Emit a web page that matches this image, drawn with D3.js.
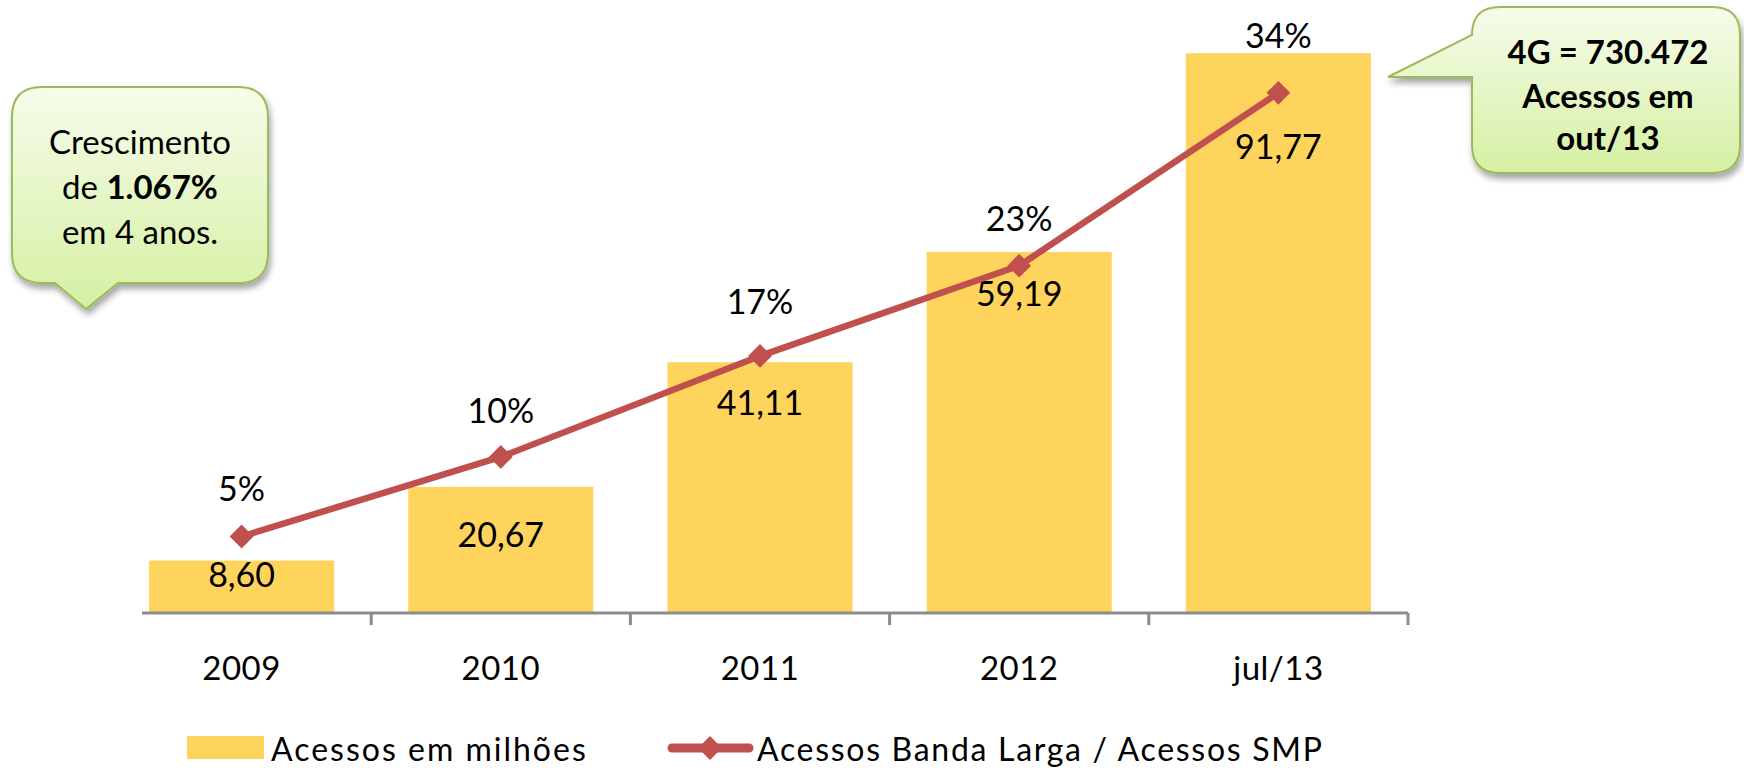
<!DOCTYPE html>
<html>
<head>
<meta charset="utf-8">
<script src="https://cdn.jsdelivr.net/npm/d3@7"></script>
<style>
  body { margin: 0; background: #fff; }
  svg { display: block; font-family: Lato, "Open Sans", sans-serif; }
</style>
</head>
<body>
<svg width="1744" height="770"></svg>
<script>
// dati
const categories = ["2009", "2010", "2011", "2012", "jul/13"];
const acessos = [8.60, 20.67, 41.11, 59.19, 91.77];          // acessos em milhões
const razao = [0.05, 0.102, 0.168, 0.227, 0.34];              // banda larga / SMP
const legendLabels = ["Acessos em milhões", "Acessos Banda Larga / Acessos SMP"];

const svg = d3.select("svg");
const width = +svg.attr("width");
const height = +svg.attr("height");

const barColor = "#FFD45C";
const lineColor = "#C0504D";
const baseY = 613;

// scale
const x = d3.scaleBand().domain(categories).range([112, 1408])
  .paddingInner(0.286).paddingOuter(0.143);
const y = d3.scaleLinear().domain([0, 100]).range([baseY, 3]);
const y2 = d3.scaleLinear().domain([0, 0.4]).range([baseY, 1]);

const defs = svg.append("defs");
const grad = defs.append("linearGradient").attr("id", "greenGrad")
  .attr("x1", 0).attr("y1", 0).attr("x2", 0).attr("y2", 1);
grad.append("stop").attr("offset", "0%").attr("stop-color", "#F6FCEB");
grad.append("stop").attr("offset", "100%").attr("stop-color", "#D5F0A2");
const shadow = defs.append("filter").attr("id", "shadow")
  .attr("x", "-20%").attr("y", "-20%").attr("width", "140%").attr("height", "150%");
shadow.append("feDropShadow").attr("dx", 2).attr("dy", 5).attr("stdDeviation", 3)
  .attr("flood-color", "#000").attr("flood-opacity", 0.35);

// barre
svg.selectAll(".bar")
  .data(acessos)
  .join("rect")
  .attr("class", "bar")
  .attr("x", (d, i) => x(categories[i]))
  .attr("y", d => y(d))
  .attr("width", x.bandwidth())
  .attr("height", d => baseY - y(d))
  .attr("fill", barColor);

// asse x
const axisG = svg.append("g").attr("transform", `translate(0, ${baseY})`);
const xAxis = d3.axisBottom(x).tickSize(0).tickPadding(50);
axisG.call(xAxis);
axisG.select(".domain").remove();
axisG.selectAll(".tick text")
  .attr("font-size", 33).attr("fill", "#000")
  .attr("font-family", "Lato, sans-serif")
  .attr("letter-spacing", 0.5)
  .attr("dy", 0).attr("y", 67);
axisG.append("line")
  .attr("x1", 142).attr("x2", 1408).attr("y1", 0).attr("y2", 0)
  .attr("stroke", "#8C8C8C").attr("stroke-width", 3);
const edges = categories.map(c => x(c) + x.bandwidth() + x.step() * x.paddingInner() / 2);
axisG.selectAll(".sep")
  .data(edges)
  .join("line")
  .attr("class", "sep")
  .attr("x1", d => d).attr("x2", d => d)
  .attr("y1", 0).attr("y2", 12)
  .attr("stroke", "#8C8C8C").attr("stroke-width", 3);

// etichette dei valori nelle barre
const valueDy = [26, 60, 53, 54, 106];
svg.selectAll(".val")
  .data(acessos)
  .join("text")
  .attr("class", "val")
  .attr("x", (d, i) => x(categories[i]) + x.bandwidth() / 2)
  .attr("y", (d, i) => y(d) + valueDy[i])
  .attr("text-anchor", "middle")
  .attr("font-size", 34)
  .text(d => d3.format(".2f")(d).replace(".", ","));

// linea
const cx = (d, i) => x(categories[i]) + x.bandwidth() / 2;
const line = d3.line().x(cx).y(d => y2(d));
svg.append("path")
  .datum(razao)
  .attr("d", line)
  .attr("fill", "none")
  .attr("stroke", lineColor)
  .attr("stroke-width", 6.5)
  .attr("stroke-linejoin", "round");

const diamond = d3.symbol().type(d3.symbolDiamond2).size(360);
svg.selectAll(".marker")
  .data(razao)
  .join("path")
  .attr("class", "marker")
  .attr("d", diamond)
  .attr("transform", (d, i) => `translate(${cx(d, i)}, ${y2(d)})`)
  .attr("fill", lineColor);

const pctDy = [-36, -34, -42, -35, -45];
svg.selectAll(".pct")
  .data(razao)
  .join("text")
  .attr("class", "pct")
  .attr("x", cx)
  .attr("y", (d, i) => y2(d) + pctDy[i])
  .attr("text-anchor", "middle")
  .attr("font-size", 34)
  .text(d => d3.format(".0%")(d));

// legenda
const leg = svg.append("g");
leg.append("rect").attr("x", 187).attr("y", 736).attr("width", 77).attr("height", 23)
  .attr("fill", barColor);
leg.append("text").attr("x", 271).attr("y", 761).attr("font-size", 32)
  .attr("letter-spacing", 2)
  .text(legendLabels[0]);
leg.append("line").attr("x1", 672).attr("x2", 749).attr("y1", 748).attr("y2", 748)
  .attr("stroke", lineColor).attr("stroke-width", 9).attr("stroke-linecap", "round");
leg.append("path").attr("d", d3.symbol().type(d3.symbolDiamond2).size(360))
  .attr("transform", "translate(710, 748)").attr("fill", lineColor);
leg.append("text").attr("x", 757).attr("y", 761).attr("font-size", 32)
  .attr("letter-spacing", 1.7)
  .text(legendLabels[1]);

// fumetto sinistro
svg.append("path")
  .attr("d", "M42,87 H238 Q268,87 268,117 V253 Q268,283 238,283 H118 L86,309 L55,283 H42 Q12,283 12,253 V117 Q12,87 42,87 Z")
  .attr("fill", "url(#greenGrad)")
  .attr("stroke", "#9BBB59").attr("stroke-width", 2)
  .attr("filter", "url(#shadow)");
const t1 = svg.append("text").attr("text-anchor", "middle").attr("font-size", 33);
t1.append("tspan").attr("x", 140).attr("y", 154).text("Crescimento");
const l2 = t1.append("tspan").attr("x", 140).attr("y", 199);
l2.append("tspan").text("de ");
l2.append("tspan").attr("font-weight", "bold").text("1.067%");
t1.append("tspan").attr("x", 140).attr("y", 244).text("em 4 anos.");

// fumetto destro
svg.append("path")
  .attr("d", "M1500,7 H1712 Q1740,7 1740,35 V145 Q1740,173 1712,173 H1500 Q1472,173 1472,145 V77 H1388 L1472,35 Q1472,7 1500,7 Z")
  .attr("fill", "url(#greenGrad)")
  .attr("stroke", "#9BBB59").attr("stroke-width", 2)
  .attr("filter", "url(#shadow)");
const t2 = svg.append("text").attr("text-anchor", "middle").attr("font-size", 33)
  .attr("font-weight", "bold");
t2.append("tspan").attr("x", 1608).attr("y", 64).text("4G = 730.472");
t2.append("tspan").attr("x", 1608).attr("y", 108).text("Acessos em");
t2.append("tspan").attr("x", 1608).attr("y", 150).text("out/13");
</script>
</body>
</html>
